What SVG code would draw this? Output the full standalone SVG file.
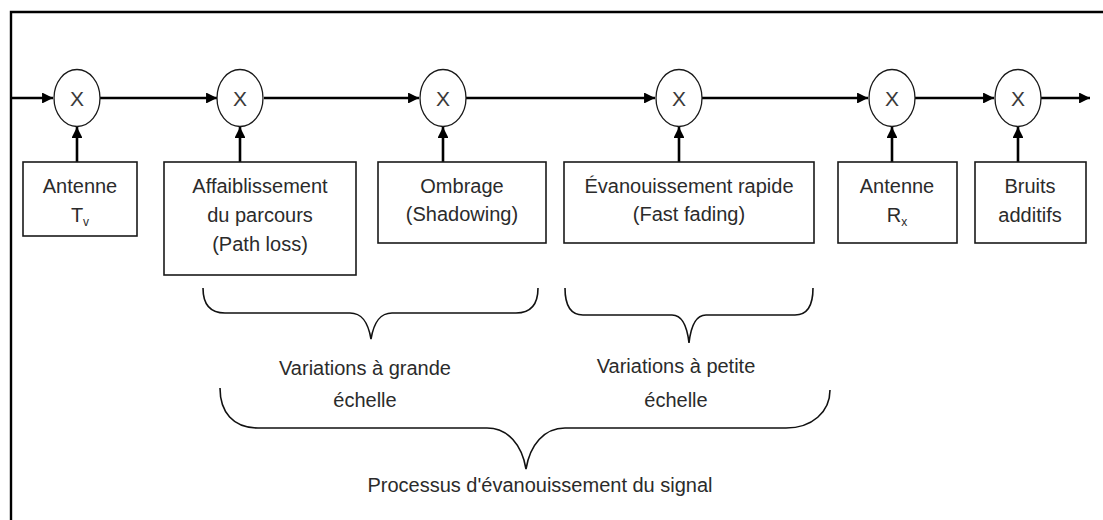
<svg xmlns="http://www.w3.org/2000/svg" width="1103" height="520" viewBox="0 0 1103 520">
<style>
.t{font-family:"Liberation Sans",Arial,sans-serif;font-size:20px;fill:#2b2b2b;text-anchor:middle}
.box{fill:#fff;stroke:#1a1a1a;stroke-width:1.6}
.mul{fill:#fff;stroke:#1a1a1a;stroke-width:1.3}
.x{font-family:"Liberation Sans",Arial,sans-serif;font-size:21px;fill:#3a3a3a;text-anchor:middle}
.w{fill:none;stroke:#000;stroke-width:2.6}
.br{fill:none;stroke:#111;stroke-width:1.6}
.sub{font-size:12px}
</style>
<defs>
<marker id="ah" viewBox="0 0 10 10" refX="10" refY="5" markerWidth="4.2" markerHeight="4.2" markerUnits="strokeWidth" orient="auto">
<path d="M0,0 L10,5 L0,10 z" fill="#000"/>
</marker>
</defs>
<rect width="1103" height="520" fill="#fff"/>
<g id="frame">
<path d="M11,520 L11,12 L1103,12" fill="none" stroke="#000" stroke-width="2.4"/>
</g>
<g id="connectors">
<path class="w" d="M11,98 L53,98" marker-end="url(#ah)"/>
<path class="w" d="M100,98 L217,98" marker-end="url(#ah)"/>
<path class="w" d="M264,98 L419,98" marker-end="url(#ah)"/>
<path class="w" d="M466,98 L655,98" marker-end="url(#ah)"/>
<path class="w" d="M702,98 L868,98" marker-end="url(#ah)"/>
<path class="w" d="M915,98 L994,98" marker-end="url(#ah)"/>
<path class="w" d="M1041,98 L1090,98" marker-end="url(#ah)"/>
<path class="w" d="M77,162 L77,127" marker-end="url(#ah)"/>
<path class="w" d="M240,162 L240,127" marker-end="url(#ah)"/>
<path class="w" d="M443,162 L443,127" marker-end="url(#ah)"/>
<path class="w" d="M679,162 L679,127" marker-end="url(#ah)"/>
<path class="w" d="M892,162 L892,127" marker-end="url(#ah)"/>
<path class="w" d="M1018,162 L1018,127" marker-end="url(#ah)"/>
</g>
<g id="m1"><ellipse class="mul" cx="77" cy="98" rx="23" ry="28.5"/><text class="x" x="77" y="106">X</text></g>
<g id="m2"><ellipse class="mul" cx="240" cy="98" rx="23" ry="28.5"/><text class="x" x="240" y="106">X</text></g>
<g id="m3"><ellipse class="mul" cx="443" cy="98" rx="23" ry="28.5"/><text class="x" x="443" y="106">X</text></g>
<g id="m4"><ellipse class="mul" cx="679" cy="98" rx="23" ry="28.5"/><text class="x" x="679" y="106">X</text></g>
<g id="m5"><ellipse class="mul" cx="892" cy="98" rx="23" ry="28.5"/><text class="x" x="892" y="106">X</text></g>
<g id="m6"><ellipse class="mul" cx="1018" cy="98" rx="23" ry="28.5"/><text class="x" x="1018" y="106">X</text></g>
<g id="antenne-tx">
<rect class="box" x="23" y="162" width="114" height="74"/>
<text class="t" x="80" y="193">Antenne</text>
<text class="t" x="80" y="222">T<tspan class="sub" dy="4">v</tspan></text>
</g>
<g id="path-loss">
<rect class="box" x="164" y="162" width="192" height="113"/>
<text class="t" x="260" y="193">Affaiblissement</text>
<text class="t" x="260" y="222">du parcours</text>
<text class="t" x="260" y="251">(Path loss)</text>
</g>
<g id="shadowing">
<rect class="box" x="378" y="162" width="168" height="81"/>
<text class="t" x="462" y="193">Ombrage</text>
<text class="t" x="462" y="221">(Shadowing)</text>
</g>
<g id="fast-fading">
<rect class="box" x="564" y="162" width="250" height="81"/>
<text class="t" x="689" y="193">Évanouissement rapide</text>
<text class="t" x="689" y="221">(Fast fading)</text>
</g>
<g id="antenne-rx">
<rect class="box" x="838" y="162" width="119" height="81"/>
<text class="t" x="897" y="193">Antenne</text>
<text class="t" x="897" y="222">R<tspan class="sub" dy="4">x</tspan></text>
</g>
<g id="bruits">
<rect class="box" x="975" y="162" width="111" height="81"/>
<text class="t" x="1030" y="193">Bruits</text>
<text class="t" x="1030" y="222">additifs</text>
</g>
<g id="large-scale">
<path class="br" d="M203,288 C203,304 210,313 225,313 L350,313 C362,313 368,322 371,339 C374,322 380,313 392,313 L516,313 C531,313 538,304 538,288"/>
<text class="t" x="365" y="375">Variations à grande</text>
<text class="t" x="365" y="407">échelle</text>
</g>
<g id="small-scale">
<path class="br" d="M565,288 C565,305 571,315 583,315 L672,315 C682,315 687,325 689,343 C691,325 696,315 706,315 L795,315 C807,315 813,305 813,288"/>
<text class="t" x="676" y="373">Variations à petite</text>
<text class="t" x="676" y="407">échelle</text>
</g>
<g id="fading-process">
<path class="br" d="M220,388 C220,412 233,428 258,428 L487,428 C508,428 522,445 526,469 C530,445 544,428 565,428 L786,428 C812,428 830,412 830,390"/>
<text class="t" x="540" y="492">Processus d'évanouissement du signal</text>
</g>
</svg>
